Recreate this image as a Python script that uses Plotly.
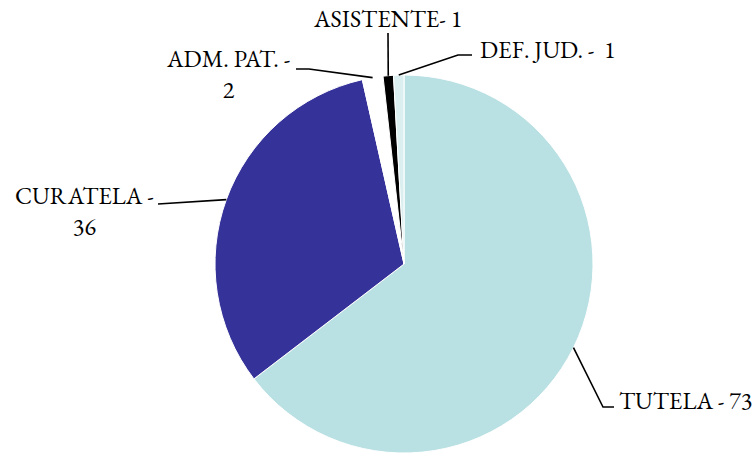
import math
import plotly.graph_objects as go

# ---- data ----
categories = ["TUTELA", "CURATELA", "ADM. PAT.", "ASISTENTE", "DEF. JUD."]
values = [73, 36, 2, 1, 1]
label_texts = ["TUTELA - 73", "CURATELA -<br>36", "ADM. PAT. -<br>2", "ASISTENTE- 1", "DEF. JUD. -\u00a0 1"]
colors = ["#B9E0E3", "#353399", "#FFFFFF", "#000000", "#DCEFF0"]

# ---- layout constants (pixels) ----
W, H = 755, 453
CX, CY, R = 404, 264, 189
FONT = "Garamond, 'EB Garamond', 'Liberation Serif', 'DejaVu Serif', serif"
FS = 24
# per-label: leader elbow points (after anchor on pie edge), text x, text centre y, anchor
label_layout = [
    dict(pts=[(603, 407), (614, 407)], tx=617, ty=400, xa="left"),
    dict(pts=[(158, 204)], tx=84, ty=211, xa="center"),
    dict(pts=[(309, 69), (296, 69)], tx=228, ty=74, xa="center"),
    dict(pts=[(388, 33)], tx=387, ty=19, xa="center"),
    dict(pts=[(458, 55), (472, 55)], tx=478, ty=49, xa="left"),
]

def px(x):
    return x / W

def py(y):
    return 1 - y / H

fig = go.Figure(go.Pie(
    labels=categories,
    values=values,
    sort=False,
    direction="clockwise",
    rotation=0,
    marker=dict(colors=colors, line=dict(color="#FFFFFF", width=1)),
    textinfo="none",
    hoverinfo="label+value",
    showlegend=False,
    domain=dict(x=[px(CX - R), px(CX + R)], y=[py(CY + R), py(CY - R)]),
))

total = sum(values)
cum = 0
shapes = []
annotations = []
for v, txt, lay in zip(values, label_texts, label_layout):
    mid = (cum + v / 2) / total * 2 * math.pi
    cum += v
    ax = CX + R * math.sin(mid)
    ay = CY - R * math.cos(mid)
    pts = [(ax, ay)] + lay["pts"]
    path = "M " + " L ".join(f"{px(x):.5f},{py(y):.5f}" for x, y in pts)
    shapes.append(dict(type="path", path=path, xref="paper", yref="paper",
                       line=dict(color="#000000", width=1.6)))
    annotations.append(dict(text=txt, x=px(lay["tx"]), y=py(lay["ty"]),
                            xref="paper", yref="paper", xanchor=lay["xa"],
                            yanchor="middle", align="center", showarrow=False,
                            font=dict(family=FONT, size=FS, color="#000000")))

fig.update_layout(
    width=W, height=H,
    margin=dict(l=0, r=0, t=0, b=0),
    paper_bgcolor="#FFFFFF",
    plot_bgcolor="#FFFFFF",
    shapes=shapes,
    annotations=annotations,
)

fig.write_html("out.html", config={"displayModeBar": False},
               post_script="document.body.style.margin='0';")
